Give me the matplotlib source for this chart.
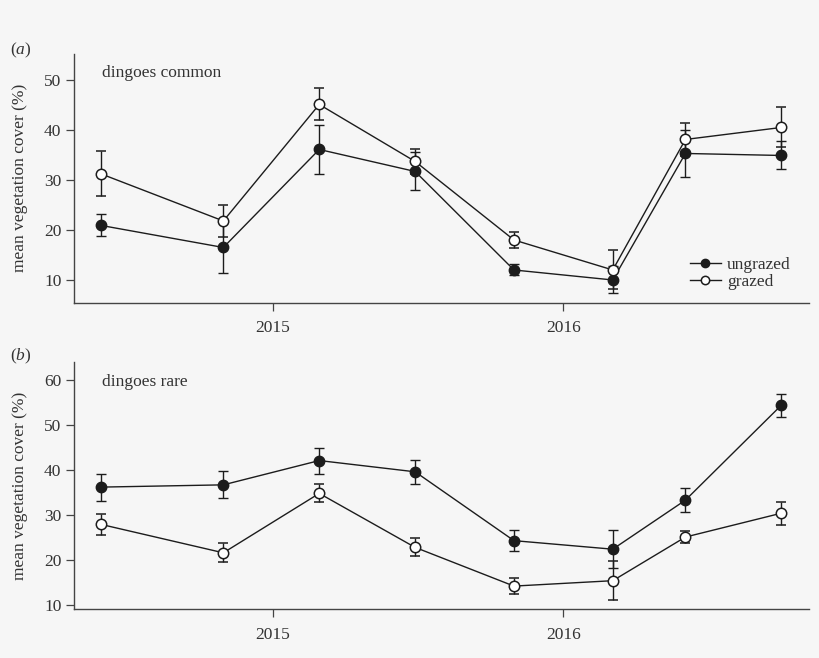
import numpy as np
import matplotlib
matplotlib.use('Agg')
import matplotlib.pyplot as plt
from matplotlib.lines import Line2D

plt.rcParams['font.family'] = ['Liberation Serif', 'DejaVu Serif']
plt.rcParams['mathtext.fontset'] = 'custom'
plt.rcParams['mathtext.rm'] = 'Liberation Serif'
plt.rcParams['mathtext.it'] = 'Liberation Serif:italic'

# survey dates as decimal years
dates = [2014.41, 2014.83, 2015.16, 2015.49, 2015.83, 2016.17, 2016.42, 2016.75]
year_ticks = [2015, 2016]

# (a) dingoes common
common_ungrazed = [20.9, 16.5, 36.1, 31.7, 12.0, 10.0, 35.3, 34.9]
common_ungrazed_err = [2.2, 5.2, 4.9, 3.8, 1.1, 2.7, 4.7, 2.8]
common_grazed = [31.2, 21.8, 45.1, 33.7, 18.0, 12.0, 38.1, 40.5]
common_grazed_err = [4.5, 3.2, 3.2, 2.5, 1.6, 3.9, 3.3, 4.0]

# (b) dingoes rare
rare_ungrazed = [36.2, 36.7, 42.1, 39.6, 24.3, 22.4, 33.3, 54.4]
rare_ungrazed_err = [3.0, 3.0, 2.9, 2.7, 2.4, 4.2, 2.6, 2.6]
rare_grazed = [27.9, 21.6, 34.8, 22.8, 14.2, 15.4, 25.1, 30.4]
rare_grazed_err = [2.3, 2.1, 2.0, 2.0, 1.8, 4.4, 1.4, 2.6]

bg = '#f6f6f6'
ink = '#1c1c1c'
txt = '#333333'

fig = plt.figure(figsize=(8.2, 6.58), dpi=100, facecolor=bg)
ax1 = fig.add_axes([0.0902, 0.540, 0.8963, 0.378])
ax2 = fig.add_axes([0.0902, 0.074, 0.8963, 0.3763])


def draw(ax, ung, ung_e, gr, gr_e):
  ax.set_facecolor(bg)
  ax.errorbar(dates, ung, yerr=ung_e, fmt='-o', color=ink, mfc=ink, mec=ink,
              ms=7.5, lw=1.0, elinewidth=1.0, capsize=3.5, capthick=1.0, zorder=3)
  ax.errorbar(dates, gr, yerr=gr_e, fmt='-o', color=ink, mfc='white', mec=ink,
              mew=1.1, ms=7.5, lw=1.0, elinewidth=1.0, capsize=3.5, capthick=1.0, zorder=4)
  for s in ['top', 'right']:
    ax.spines[s].set_visible(False)
  for s in ['left', 'bottom']:
    ax.spines[s].set_color('#444444')
    ax.spines[s].set_linewidth(1.0)
  ax.set_xlim(2014.316, 2016.845)
  ax.set_xticks(year_ticks)
  ax.set_xticklabels([str(y) for y in year_ticks])
  ax.tick_params(direction='out', length=5.5, width=0.9, color='#444444',
                 labelsize=12.5, labelcolor=txt)
  ax.tick_params(axis='x', pad=7)
  ax.set_ylabel('mean vegetation cover (%)', fontsize=12.5, color=txt)
  ax.yaxis.set_label_coords(-0.063, 0.5)


draw(ax1, common_ungrazed, common_ungrazed_err, common_grazed, common_grazed_err)
ax1.set_ylim(5.46, 55.2)
ax1.set_yticks([10, 20, 30, 40, 50])
ax1.text(0.038, 0.922, 'dingoes common', transform=ax1.transAxes, fontsize=12.5,
         color=txt, va='center', ha='left')

draw(ax2, rare_ungrazed, rare_ungrazed_err, rare_grazed, rare_grazed_err)
ax2.set_ylim(9.04, 64.07)
ax2.set_yticks([10, 20, 30, 40, 50, 60])
ax2.text(0.038, 0.919, 'dingoes rare', transform=ax2.transAxes, fontsize=12.5,
         color=txt, va='center', ha='left')

handles = [Line2D([], [], color=ink, lw=1.0, marker='o', ms=6, mfc=ink, mec=ink),
           Line2D([], [], color=ink, lw=1.0, marker='o', ms=6, mfc='white', mec=ink, mew=1.1)]
ax1.legend(handles, ['ungrazed', 'grazed'], loc='lower left',
           bbox_to_anchor=(0.838, 0.052), frameon=False, fontsize=12.5,
           handlelength=1.8, handletextpad=0.35, labelspacing=0.05,
           borderpad=0, borderaxespad=0, labelcolor=txt)

fig.text(0.012, 0.924, '($\\it{a}$)', fontsize=12.5, color=txt, va='center')
fig.text(0.012, 0.458, '($\\it{b}$)', fontsize=12.5, color=txt, va='center')

fig.savefig('out.png', dpi=100, facecolor=bg)
